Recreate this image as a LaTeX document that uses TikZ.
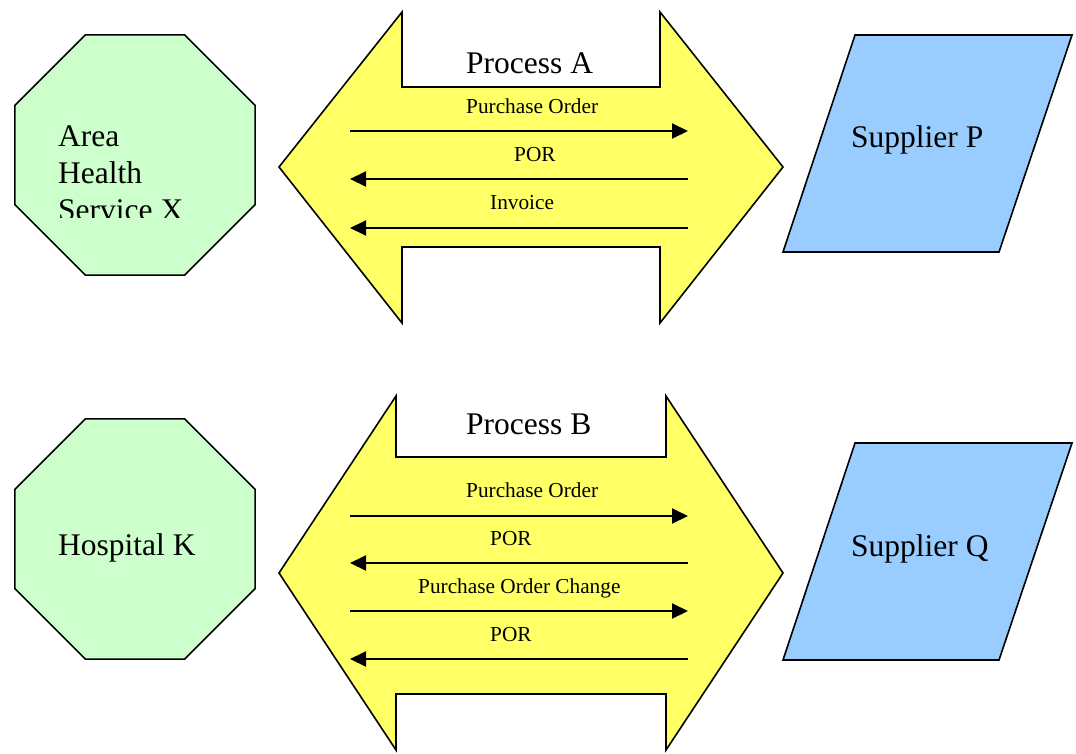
\documentclass[tikz,border=0pt]{standalone}
\usepackage{fontspec}
\setmainfont{Liberation Serif}
\usetikzlibrary{arrows.meta,shapes.geometric}
\definecolor{orggreen}{HTML}{CCFFCC}
\definecolor{procyellow}{HTML}{FFFF66}
\definecolor{suppblue}{HTML}{99CCFF}
\begin{document}
\begin{tikzpicture}[x=1pt,y=-1pt,
    org/.style={regular polygon,regular polygon sides=8,minimum size=260pt,inner sep=0pt,draw,line width=1.6pt,fill=orggreen},
    proc/.style={draw,line width=1.6pt,fill=procyellow,line join=miter},
    supp/.style={draw,line width=1.6pt,fill=suppblue},
    big/.style={anchor=base west,inner sep=0pt,font=\fontsize{31.5}{37}\selectfont},
    small/.style={anchor=base west,inner sep=0pt,font=\fontsize{21.3}{25}\selectfont},
    msg/.style={line width=2pt,-{Triangle[length=16pt,width=15pt]}}]
  \useasboundingbox (0,0) rectangle (1076,753);
  % organisations
  \node[org] (ahsx) at (135,155) {};
  \node[org] (hospk) at (135,539) {};
  \begin{scope}
    \clip (20,100) rectangle (250,217);
    \node[big] (area) at (58,146) {Area};
    \node[big] (health) at (58,183) {Health};
    \node[big] (servx) at (58,220) {Service X};
  \end{scope}
  \node[big] (hospktxt) at (58,555) {Hospital K};
  % suppliers
  \draw[supp] (855,35) -- (1072,35) -- (999,252) -- (783,252) -- cycle;
  \draw[supp] (855,443) -- (1072,443) -- (999,660) -- (783,660) -- cycle;
  \node[big] (suppp) at (851,147) {Supplier P};
  \node[big] (suppq) at (851,556) {Supplier Q};
  % process A
  \draw[proc] (279,167) -- (402,12) -- (402,87) -- (660,87) -- (660,12) -- (783,167)
    -- (660,323) -- (660,247) -- (402,247) -- (402,323) -- cycle;
  \node[big] (proca) at (466,73) {Process A};
  \coordinate (a1l) at (350,131); \coordinate (a1r) at (688,131);
  \coordinate (a2l) at (350,179); \coordinate (a2r) at (688,179);
  \coordinate (a3l) at (350,228); \coordinate (a3r) at (688,228);
  \node[small] (a1) at (466,113) {Purchase Order};
  \node[small] (a2) at (514,161) {POR};
  \node[small] (a3) at (490,209) {Invoice};
  \draw[msg] (a1l) -- (a1r);
  \draw[msg] (a2r) -- (a2l);
  \draw[msg] (a3r) -- (a3l);
  % process B
  \draw[proc] (279,573) -- (396,396) -- (396,457) -- (666,457) -- (666,396) -- (783,573)
    -- (666,750) -- (666,694) -- (396,694) -- (396,750) -- cycle;
  \node[big] (procb) at (466,434) {Process B};
  \coordinate (b1l) at (350,516); \coordinate (b1r) at (688,516);
  \coordinate (b2l) at (350,563); \coordinate (b2r) at (688,563);
  \coordinate (b3l) at (350,611); \coordinate (b3r) at (688,611);
  \coordinate (b4l) at (350,659); \coordinate (b4r) at (688,659);
  \node[small] (b1) at (466,497) {Purchase Order};
  \node[small] (b2) at (490,545) {POR};
  \node[small] (b3) at (418,593) {Purchase Order Change};
  \node[small] (b4) at (490,641) {POR};
  \draw[msg] (b1l) -- (b1r);
  \draw[msg] (b2r) -- (b2l);
  \draw[msg] (b3l) -- (b3r);
  \draw[msg] (b4r) -- (b4l);
\end{tikzpicture}
\end{document}
